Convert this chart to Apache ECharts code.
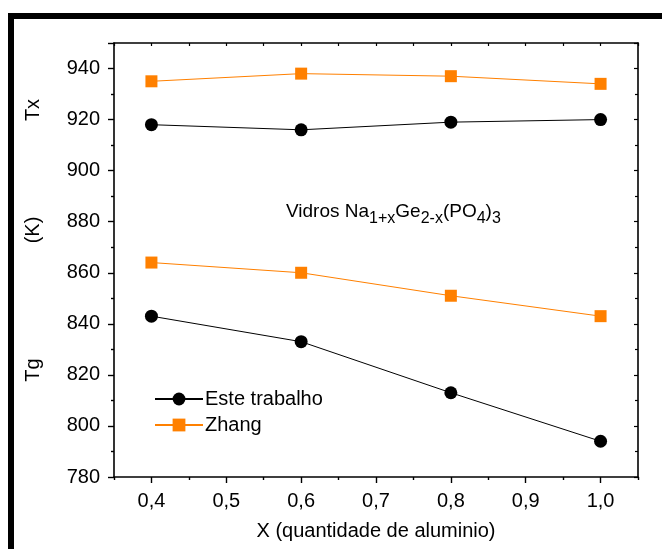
<!DOCTYPE html>
<html>
<head>
<meta charset="utf-8">
<script src="https://cdn.jsdelivr.net/npm/echarts@6/dist/echarts.min.js"></script>
<style>
  html, body { margin: 0; padding: 0; background: #fff; }
  #chart { width: 662px; height: 549px; }
</style>
</head>
<body>
<div id="chart"></div>
<script>
// Composition x of the Na(1+x)Ge(2-x)(PO4)3 glasses
const xValues = [0.4, 0.6, 0.8, 1.0];

// Characteristic temperatures (K), this work
const tgEste = [843, 833, 813, 794];
const txEste = [918, 916, 919, 920];

// Characteristic temperatures (K), Zhang
const tgZhang = [864, 860, 851, 843];
const txZhang = [935, 938, 937, 934];

// Tick positions
const xMajorTicks = [0.4, 0.5, 0.6, 0.7, 0.8, 0.9, 1.0];
const xMinorTicks = [0.35, 0.45, 0.55, 0.65, 0.75, 0.85, 0.95, 1.05];

const FONT = '"Liberation Sans", Arial, sans-serif';
const ORANGE = '#FF8000';

const pairs = (xs, ys) => xs.map((x, i) => [x, ys[i]]);

const chart = echarts.init(document.getElementById('chart'), null, { renderer: 'canvas' });

const gridPos = { left: 114, top: 43, right: 24, bottom: 72 };

function lineSeries(name, data, symbol, size, color) {
  return {
    type: 'line',
    name: name,
    data: data,
    xAxisIndex: 0,
    yAxisIndex: 0,
    symbol: symbol,
    symbolSize: size,
    showAllSymbol: true,
    lineStyle: { color: color, width: 1 },
    itemStyle: { color: color },
    emphasis: { disabled: true },
    animation: false,
    z: 5
  };
}

const axisLine = { show: true, lineStyle: { color: '#000', width: 1.6 } };

chart.setOption({
  backgroundColor: '#fff',
  animation: false,
  grid: Object.assign({}, gridPos, { containLabel: false }),
  legend: {
    data: ['Este trabalho', 'Zhang'],
    orient: 'vertical',
    left: 149,
    top: 384,
    itemWidth: 48,
    itemHeight: 16,
    itemGap: 6,
    textStyle: { fontFamily: FONT, fontSize: 20, color: '#000', padding: [0, 0, 0, -3] },
    selectedMode: false
  },
  xAxis: [
    {
      type: 'value',
      position: 'bottom',
      min: 0.35,
      max: 1.05,
      name: 'X (quantidade de aluminio)',
      nameLocation: 'middle',
      nameGap: 44,
      nameTextStyle: { fontFamily: FONT, fontSize: 20, color: '#000' },
      axisLine: axisLine,
      axisTick: { show: true, inside: false, length: 6, customValues: xMajorTicks, lineStyle: { color: '#000', width: 1.4 } },
      axisLabel: {
        show: true, margin: 14, customValues: xMajorTicks,
        fontFamily: FONT, fontSize: 20, color: '#000',
        formatter: v => v.toFixed(1).replace('.', ',')
      },
      splitLine: { show: false }
    },
    {
      // minor ticks along the bottom edge
      type: 'value',
      position: 'bottom',
      min: 0.35,
      max: 1.05,
      axisLine: { show: false },
      axisTick: { show: true, inside: false, length: 3, customValues: xMinorTicks, lineStyle: { color: '#000', width: 1.4 } },
      axisLabel: { show: false },
      splitLine: { show: false }
    },
    {
      // top frame edge, inward ticks
      type: 'value',
      position: 'top',
      min: 0.35,
      max: 1.05,
      axisLine: axisLine,
      axisTick: { show: true, inside: true, length: 3, customValues: xMajorTicks.concat(xMinorTicks), lineStyle: { color: '#000', width: 1.2 } },
      axisLabel: { show: false },
      splitLine: { show: false }
    }
  ],
  yAxis: [
    {
      type: 'value',
      position: 'left',
      min: 780,
      max: 950,
      interval: 20,
      axisLine: axisLine,
      axisTick: { show: true, inside: false, length: 6, lineStyle: { color: '#000', width: 1.4 } },
      minorTick: { show: true, splitNumber: 2, length: 3, lineStyle: { color: '#000', width: 1.4 } },
      axisLabel: { margin: 14, showMaxLabel: false, fontFamily: FONT, fontSize: 20, color: '#000',
        formatter: v => (v % 20 === 0 ? String(v) : '') },
      splitLine: { show: false },
      minorSplitLine: { show: false }
    },
    {
      // right frame edge, inward ticks
      type: 'value',
      position: 'right',
      min: 780,
      max: 950,
      interval: 20,
      axisLine: axisLine,
      axisTick: { show: true, inside: true, length: 4, lineStyle: { color: '#000', width: 1.2 } },
      minorTick: { show: true, splitNumber: 2, length: 3, lineStyle: { color: '#000', width: 1.2 } },
      axisLabel: { show: false },
      splitLine: { show: false },
      minorSplitLine: { show: false }
    }
  ],
  series: [
    lineSeries('Este trabalho', pairs(xValues, txEste), 'circle', 13, '#000'),
    lineSeries('Este trabalho', pairs(xValues, tgEste), 'circle', 13, '#000'),
    lineSeries('Zhang', pairs(xValues, txZhang), 'rect', 12, ORANGE),
    lineSeries('Zhang', pairs(xValues, tgZhang), 'rect', 12, ORANGE)
  ],
  graphic: [
    // heavy frame on the top and left edges
    { type: 'rect', left: 8, top: 13, shape: { width: 654, height: 6 }, style: { fill: '#000' }, silent: true },
    { type: 'rect', left: 8, top: 13, shape: { width: 6, height: 536 }, style: { fill: '#000' }, silent: true },
    // vertical axis labels
    { type: 'text', x: 33, y: 110, rotation: Math.PI / 2, style: { text: 'Tx', font: '20px ' + FONT, fill: '#000', align: 'center', verticalAlign: 'middle' } },
    { type: 'text', x: 33, y: 230, rotation: Math.PI / 2, style: { text: '(K)', font: '20px ' + FONT, fill: '#000', align: 'center', verticalAlign: 'middle' } },
    { type: 'text', x: 33, y: 370, rotation: Math.PI / 2, style: { text: 'Tg', font: '20px ' + FONT, fill: '#000', align: 'center', verticalAlign: 'middle' } },
    // composition annotation
    {
      type: 'text', x: 286, y: 202,
      style: {
        text: '{m|Vidros Na}{s|1+x}{m|Ge}{s|2-x}{m|(PO}{s|4}{m|)}{s|3}',
        fill: '#000',
        rich: {
          m: { fontFamily: FONT, fontSize: 19, lineHeight: 21, verticalAlign: 'top', fill: '#000' },
          s: { fontFamily: FONT, fontSize: 16, lineHeight: 21, verticalAlign: 'top', padding: [9, 0, 0, 0], fill: '#000' }
        }
      }
    }
  ]
});
</script>
</body>
</html>
